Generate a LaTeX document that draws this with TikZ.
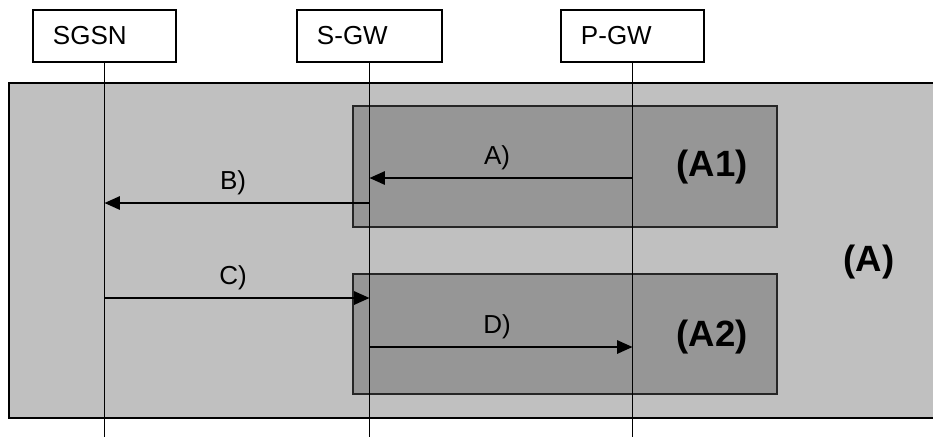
\documentclass[tikz,border=0pt]{standalone}
\usepackage{fontspec}
\setmainfont{Liberation Sans}
\usetikzlibrary{arrows.meta}
\definecolor{outergray}{HTML}{C0C0C0}
\definecolor{innergray}{HTML}{969696}

\begin{document}
\begin{tikzpicture}[x=0.025cm,y=-0.025cm,>={Triangle[length=11pt,width=9.5pt]},
  entity/.style={draw,line width=1.1pt,fill=white,minimum height=1.3cm,inner xsep=0.5cm,
    align=left,font=\fontsize{18.5}{22}\selectfont},
  msg/.style={->,line width=1.4pt},
  lbl/.style={font=\fontsize{18.5}{22}\selectfont},
  area/.style={font=\fontsize{26}{30}\selectfont\bfseries}]
\useasboundingbox (0,0) rectangle (933,436);
\clip (0,0) rectangle (933,436);
% areas
\draw[fill=outergray,line width=1.2pt] (9,83) rectangle (960,418);
\draw[fill=innergray,draw=black!85,line width=0.9pt] (353,106) rectangle (777,227);
\draw[fill=innergray,draw=black!85,line width=0.9pt] (353,274) rectangle (777,394);
\node[area] (A) at (869,262) {(A)};
\node[area] (A1) at (712,167) {(A1)};
\node[area] (A2) at (712,337) {(A2)};
% entities and lifelines
\node[entity,text width=2.575cm] (sgsn) at (104.5,36) {SGSN};
\node[entity,text width=2.625cm] (sgw) at (369.5,36) {S-GW};
\node[entity,text width=2.575cm] (pgw) at (632.5,36) {P-GW};
\draw[line width=1.1pt] (sgsn.south) -- (sgsn.south |- 0,440);
\draw[line width=1.1pt] (sgw.south) -- (sgw.south |- 0,440);
\draw[line width=1.1pt] (pgw.south) -- (pgw.south |- 0,440);
% messages
\draw[msg] (pgw.south |- 0,178) -- (sgw.south |- 0,178) node[lbl,pos=0.515,above=2pt] (a) {A)};
\draw[msg] (sgw.south |- 0,203) -- (sgsn.south |- 0,203) node[lbl,pos=0.515,above=2pt] (b) {B)};
\draw[msg] (sgsn.south |- 0,298) -- (sgw.south |- 0,298) node[lbl,pos=0.485,above=2pt] (c) {C)};
\draw[msg] (sgw.south |- 0,347) -- (pgw.south |- 0,347) node[lbl,pos=0.485,above=2pt] (d) {D)};
\end{tikzpicture}
\end{document}
